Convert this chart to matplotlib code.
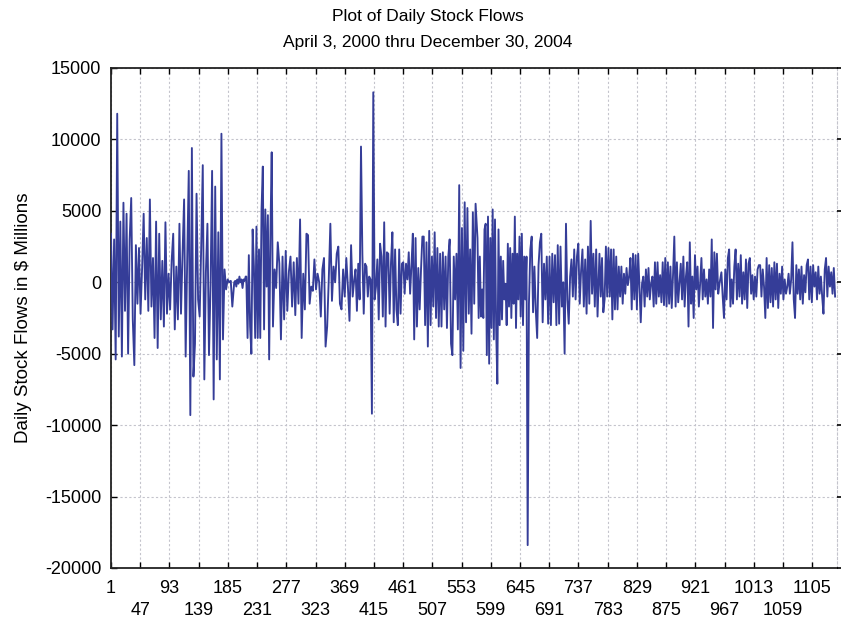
import numpy as np
import matplotlib
matplotlib.use("Agg")
import matplotlib.pyplot as plt

plt.rcParams["font.family"] = ["Liberation Sans", "DejaVu Sans"]

# ── data: (first day, last day) + daily flows, $ millions ──
seg1_span = (1, 192)
seg1 = [3400, -3300, 3000, -5400, 11800, -3800, 4250, -5200, 5570, -2000,
        4800, -5000, 3000, 5900, -2600, -5800, 2600, -1500, 2400, -2200,
        1000, 4800, -1200, 3100, -2000, 5800, -1700, 1700, -3900, 4250,
        -4600, 3400, -2600, 1500, -3100, 4200, -2200, 600, -1900, 1500,
        3400, -3300, 1100, -2600, 4100, -2200, 2000, 5800, -5200, 1600,
        7800, -9300, 9400, -6600, -4300, 6200, -1200, -2400, 2500, 8200,
        -6800, 700, 4100, -5100, -200, 7800, -8200, 6700, -5400, 3500,
        -6800, 10400, -4000, 900, -500, 200, 0, 100, -1700]

seg2_span = (195, 213)
seg2 = [0, 100, -300, 200, -100, 400, 0, 200, -400, 200, 100, 400]

seg3_span = (214, 254)
seg3 = [400, -3900, 1900, -3100, -5000, 3700, 1100, -3900, 3900, -3900,
        2300, -3900, 5100, 8100, -3300, 5100, -300, 4700, -5400, 3500, 9100]

seg4_span = (256, 384)
seg4 = [-3100, 900, -400, 2800, 1300, -4000, 1800, -2600, 2200, -2000,
        750, 1800, -1700, 1400, -2300, 1700, -1500, 4400, -3900, 600,
        -1900, 3400, 3300, -1500, -300, -600, 1600, -500, 600, 0,
        -2400, 900, 1700, -4500, -3100, 200, 4100, -1300, 1100, 0,
        2000, 2500, -1500, -1900, 900, -1000, 1700, -300, -2700, 2600,
        -1000, 200]

seg5_span = (386, 575)
seg5 = [900, -2000, 1300, -1200, 9500, 2000, -2200, 1300, 1100, -1000,
        400, 200, -9200, 13300, -1200, -300, 1600, -2600, 2700, 1800,
        -2400, 4200, -3100, 2100, 2000, -2200, 1400, 3500, -2800, 2300,
        -1900, -3000, 2300, -2200, 1300, 1400, -800, 1300, 200, 2100,
        -800, 1200, 3400, -4000, 3100, -3100, 1000, -1900, 900, 3200,
        3200, -3000, 2800, -4500, 3600, -3000, 1800, -1700, 3500, -2500,
        2400, -3100, 2000, -3100, 2100, -1900, 1800, -3200, 1800, 3000,
        -4300, -5100, 1800, -1200, 2000, -3300, 6800, -6000, 3800, -4800,
        5600, -2800, 5200, -2200, 2300, -3600, 4900, -1500, 5500]

seg6_span = (578, 657)
seg6 = [3100, -2500, 1800, -2400, -500, -2500, 3700, 4100, -5100, 4600,
        -5700, 3100, -3200, 5100, -4000, 4400, -3300, -7100, 3700, -3000,
        1800, -2600, 1500, -1200, -100, -3000, 2700, -1700, 2400, -2500,
        2000, -1500, 4600, -3200, 2000, -1200, 3200, -2400, 3400, -3000,
        1800, -1200, 1800, -18400]

seg7_span = (659, 767)
seg7 = [-1500, 2300, 3200, -2100, 1100, -2000, -3900, 1200, 2800, 3400,
        -2800, 1300, -1200, 1800, -2900, 1800, -3000, 2000, -1400, 1900,
        -3000, 2600, -2900, 2500, -1700, 0, -5000, 4100, -1200, -2900,
        400, 1600, -1000, 2300, -1200, 1800, 2700, -1500, 800, 2300,
        -1700, 1600, -2200, 2500, -1500, 4300, -800, 2000, -1700, 2300,
        -2400]

seg8_span = (770, 959)
seg8 = [2000, -1000, 1700, -2100, -1200, 2500, -1000, 2400, -1000, 2300,
        -2600, 2300, -1900, 1800, -1900, 1100, -1000, 1100, -1500, 600,
        -800, 1000, -200, 400, 1700, -1900, 2000, -1200, 1900, -1900,
        2000, -300, -2800, -100, 400, -1700, 900, -1000, 1000, -1200,
        -100, 400, -1700, 1400, -1500, 1400, -1000, 500, -1400, 1400,
        -1600, 1700, -1700, 1400, -1500, 1100, -1800, 500, 3200, -1700,
        1400, -1400, -100, 1300, -1200, 1800, -1700, 400, 1400, -3100,
        2800, -1500, 400, -2500, 1900, -500, 1100, -1700, -100, 1700,
        -1200, 900, -1000, 200, -1500, 900, -1000, 3000, -3200, 2100,
        -500, 2000, -800, -100]

seg9_span = (962, 1141)
seg9 = [700, -1000, -2500, 900, -1200, 1700, 2300, -1700, 200, -1500,
        1100, 2300, -1200, 1300, -1000, 1900, -1500, 700, -1200, 1600,
        -1800, 1300, 1700, -800, 500, -1200, 400, -1000, 900, 1200,
        1200, -1000, 900, -300, -2500, 1700, -1800, 1200, -1400, 1000,
        -1700, 1400, -1200, 1300, -1800, 600, -800, 1100, -1200, 200,
        -800, -300, 600, -800, 200, 2800, -1200, -2500, 1200, -800,
        900, -1200, 1100, -1500, 500, -700, 1200, 1600, -1200, 1100,
        -1400, 1200, -300, 700, -1200, 1100, -800, 400, -1000, -2200,
        900, 1700, -1000, 1100, -300, 700, -800, 1000, -1000]

x_ticks_row1 = list(range(1, 1106, 92))     # 1, 93, ... 1105
x_ticks_row2 = list(range(47, 1060, 92))    # 47, 139, ... 1059
y_ticks = list(range(-20000, 15001, 5000))

segments = [(seg1_span, seg1), (seg2_span, seg2), (seg3_span, seg3),
            (seg4_span, seg4), (seg5_span, seg5), (seg6_span, seg6),
            (seg7_span, seg7), (seg8_span, seg8), (seg9_span, seg9)]

days = np.concatenate([np.linspace(a, b, len(v)) for (a, b), v in segments])
flows = np.concatenate([np.asarray(v, float) for _, v in segments])

fig = plt.figure(figsize=(8.41, 6.23), dpi=100)
ax = fig.add_axes([111 / 841, 1 - 568 / 623, 726 / 841, 500 / 623])

ax.plot(days, flows, color="#353d98", linewidth=1.35, zorder=3)

ax.set_xlim(1, 1144)
ax.set_ylim(-20000, 15000)

# x labels alternate on two rows: major ticks on row 1, minor ticks on row 2
ax.set_xticks(x_ticks_row1)
ax.set_xticklabels([str(t) for t in x_ticks_row1], fontsize=13)
ax.set_xticks(x_ticks_row2, minor=True)
ax.set_xticklabels([str(t) for t in x_ticks_row2], minor=True, fontsize=13)
ax.set_yticks(y_ticks)
ax.set_yticklabels([str(t) for t in y_ticks], fontsize=13)

ax.tick_params(axis="x", which="major", direction="in", top=True, length=4,
               width=1, pad=8.5)
ax.tick_params(axis="x", which="minor", direction="in", top=True, length=4,
               width=1, pad=24.5)
ax.tick_params(axis="y", direction="in", left=True, right=False, length=4,
               width=1, pad=7)

ax.grid(True, which="both", axis="x", color="#c4c4cc",
        linestyle=(0, (2, 2)), linewidth=0.8)
ax.grid(True, which="major", axis="y", color="#c4c4cc",
        linestyle=(0, (2, 2)), linewidth=0.8)
ax.set_axisbelow(True)
for side in ("left", "top", "bottom"):
    ax.spines[side].set_linewidth(1.3)
    ax.spines[side].set_color("#222222")
ax.spines["right"].set_color("#c4c4cc")
ax.spines["right"].set_linewidth(0.8)
ax.spines["right"].set_linestyle((0, (2, 2)))

# outward ticks on the right edge
ax_r = ax.twinx()
ax_r.set_ylim(-20000, 15000)
ax_r.set_yticks(y_ticks)
ax_r.tick_params(axis="y", direction="out", length=3, width=1.2,
                 labelright=False)
for side in ax_r.spines:
    ax_r.spines[side].set_visible(False)

ax.set_ylabel("Daily Stock Flows in $ Millions", fontsize=13.5, labelpad=9)

fig.text(428 / 841, 1 - 17 / 623, "Plot of Daily Stock Flows", ha="center",
         va="center", fontsize=12.5)
fig.text(428 / 841, 1 - 42 / 623, "April 3, 2000 thru December 30, 2004",
         ha="center", va="center", fontsize=12.5)

fig.savefig("out.png", dpi=100)
